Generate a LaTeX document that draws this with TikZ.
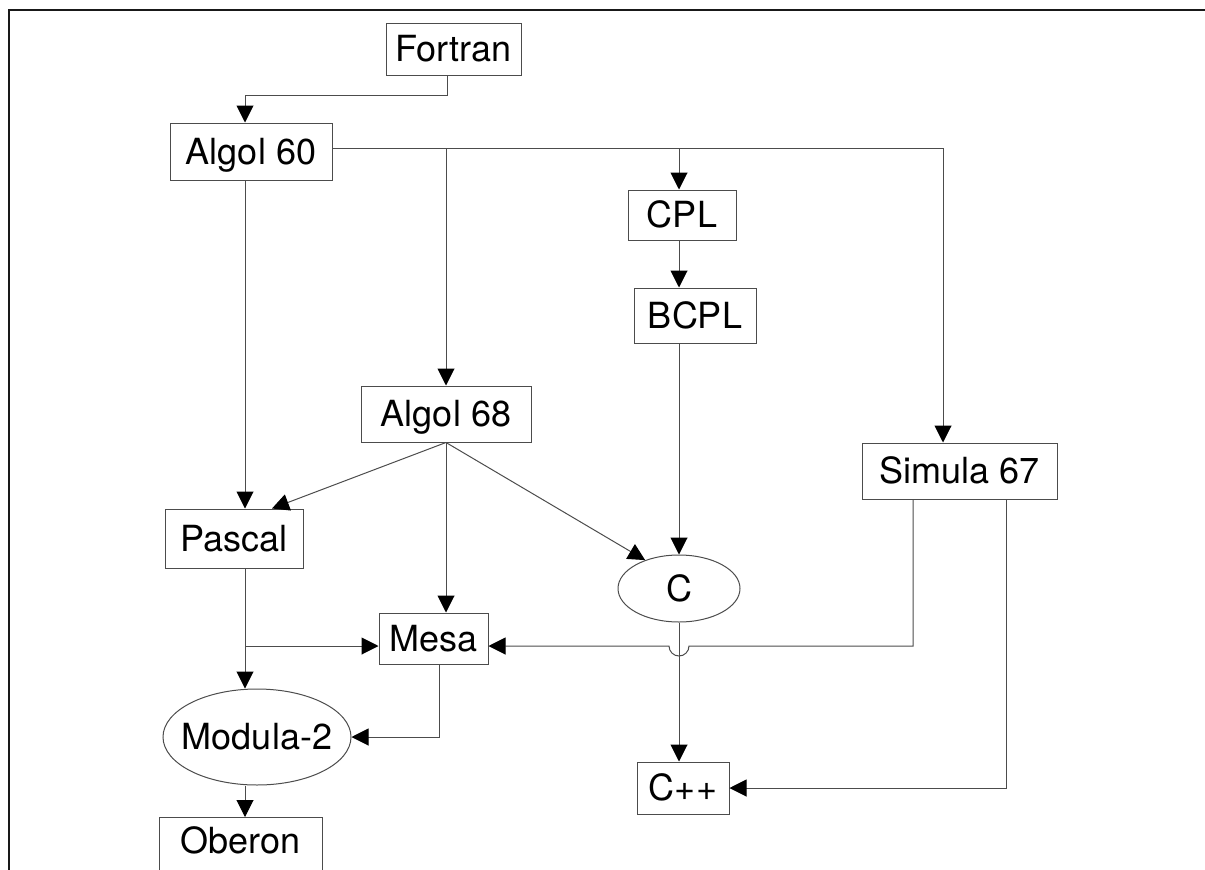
\documentclass[tikz,border=0pt]{standalone}
\usepackage{fontspec}
\setmainfont{TeX Gyre Heros}
\usetikzlibrary{arrows.meta,shapes.geometric,calc}
\begin{document}
\begin{tikzpicture}[x=1pt,y=-1pt,
  lang/.style={draw=black!70, line width=1pt, rectangle, inner sep=0pt,
    font=\fontsize{36}{42}\selectfont, text height=25pt, text depth=0pt},
  oval/.style={lang, ellipse},
  conn/.style={draw=black!70, line width=1pt},
  arr/.style={conn, -{Triangle[length=17pt,width=17pt,color=black]}}]
\useasboundingbox (0,0) rectangle (1205,870);
\draw[black!90, line width=2.2pt] (9.3,872) -- (9.3,10.2) -- (1207,10.2);

\node[lang, minimum width=135pt, minimum height=52pt] (fortran) at (453.5,49) {Fortran};
\node[lang, minimum width=162pt, minimum height=57pt] (algol60) at (251,151.5) {Algol 60};
\node[lang, minimum width=108pt, minimum height=50pt] (cpl) at (682,215) {CPL};
\node[lang, minimum width=122pt, minimum height=55pt] (bcpl) at (695,315.5) {BCPL};
\node[lang, minimum width=170pt, minimum height=56pt] (algol68) at (446,414) {Algol 68};
\node[lang, minimum width=195pt, minimum height=56pt] (simula) at (959.5,471) {Simula 67};
\node[lang, minimum width=138pt, minimum height=59pt] (pascal) at (234,538.5) {Pascal};
\node[oval, minimum width=122pt, minimum height=67pt] (c) at (679,588.5) {\makebox[0pt]{C}};
\node[lang, minimum width=109pt, minimum height=51pt] (mesa) at (433.5,638.5) {Mesa};
\node[oval, minimum width=188pt, minimum height=96pt] (modula) at (257,737) {\makebox[0pt]{Modula-2}};
\node[lang, minimum width=92pt, minimum height=52pt] (cpp) at (683,788) {C++};
\node[lang, anchor=north, minimum width=163pt, inner ysep=0pt, text height=36pt, text depth=25pt] (oberon) at (240.5,817) {Oberon};

\coordinate (fs) at ([xshift=-6.5pt]fortran.south);
\coordinate (fy) at (0,95);
\coordinate (top) at ([yshift=3.5pt]algol60.east);
\coordinate (lc) at ([xshift=-6pt]algol60.south);
\coordinate (my) at ([yshift=-7.5pt]mesa.west);
\coordinate (myr) at ([yshift=-7.5pt]mesa.east);
\coordinate (sl) at ([xshift=-46.5pt]simula.south);
\coordinate (sr) at ([xshift=46.5pt]simula.south);

\draw[arr] (fs) -- (fs |- fy) -| (lc |- algol60.north);
\draw[arr] (top) -| ([xshift=-16.5pt]simula.north);
\draw[arr] (top -| algol68.north) -- (algol68.north);
\draw[arr] (top -| c.north) -- (cpl.north -| c.north);
\draw[arr] (cpl.south -| c.north) -- (bcpl.north -| c.north);
\draw[arr] (bcpl.south -| c.north) -- (c.north);
\draw[arr] (lc) -- (lc |- pascal.north);
\draw[arr] (algol68.south) -- ([xshift=38pt]pascal.north);
\draw[arr] (algol68.south) -- (c.140);
\draw[arr] (algol68.south) -- (mesa.north -| algol68.south);
\draw[arr] (lc |- pascal.south) -- (lc |- modula.north);
\draw[arr] (lc |- my) -- (my);
\draw[arr] ([xshift=5.5pt]mesa.south) |- (modula.east);
\draw[arr] (sl) -- (sl |- myr) -- ($(myr -| c.south)+(10pt,0)$)
  arc[start angle=0, end angle=-180, radius=10pt] -- (myr);
\draw[arr] (c.south) -- (cpp.north -| c.south);
\draw[arr] (sr) |- (cpp.east);
\draw[arr] (modula.south -| lc) -- (oberon.north -| lc);
\end{tikzpicture}
\end{document}
